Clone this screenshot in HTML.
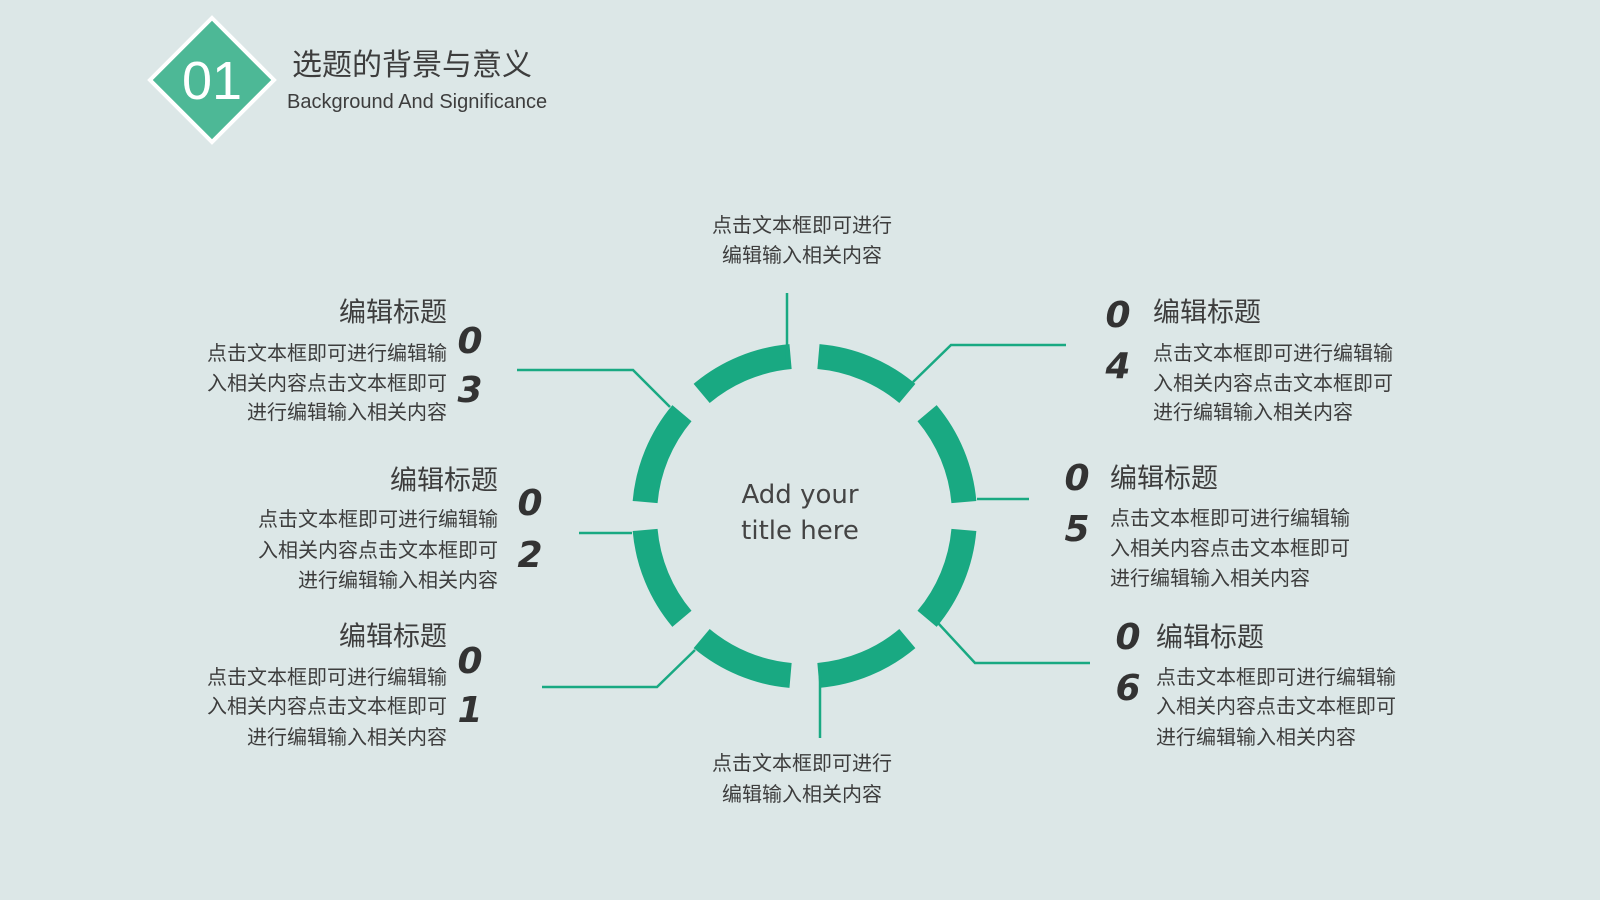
<!DOCTYPE html>
<html><head><meta charset="utf-8"><style>
body{margin:0;width:1600px;height:900px;background:#dce7e7;position:relative;overflow:hidden;font-family:"Liberation Sans","Noto Sans CJK SC",sans-serif;color:#3d3d3d}
.t{position:absolute;white-space:nowrap;line-height:1}
.h{font-size:27px}
.b{font-size:20px}
.r{transform:translate(-100%,-50%);text-align:right}
.l{transform:translate(0,-50%)}
.c{transform:translate(-50%,-50%);text-align:center}
.d{position:absolute;font-family:"DejaVu Sans",sans-serif;font-style:italic;font-weight:bold;font-size:36px;color:#333;transform:translate(-50%,-50%);line-height:1}
</style></head><body>
<svg width="1600" height="900" style="position:absolute;left:0;top:0">
<polygon points="212,18 274,80 212,142 150,80" fill="#4db896" stroke="#fff" stroke-width="4"/>
<g fill="none" stroke="#19a982" stroke-width="25" id="ring"></g>
<g fill="none" stroke="#19a982" stroke-width="2.5">
<polyline points="787,293 787,368"/>
<polyline points="1066,345 951,345 913,382"/>
<polyline points="977,499 1029,499"/>
<polyline points="938,623 975,663 1090,663"/>
<polyline points="820,677 820,738"/>
<polyline points="542,687 657,687 695,650"/>
<polyline points="579,533 632,533"/>
<polyline points="517,370 633,370 670,407"/>
</g>
</svg>
<script>
var g=document.getElementById('ring'),cx=804.5,cy=516,r=160,s='';
for(var k=0;k<8;k++){var a0=(45*k+5)*Math.PI/180,a1=(45*k+40)*Math.PI/180;
s+='<path d="M'+(cx+r*Math.cos(a0))+','+(cy+r*Math.sin(a0))+' A'+r+','+r+' 0 0 1 '+(cx+r*Math.cos(a1))+','+(cy+r*Math.sin(a1))+'"/>';}
g.innerHTML=s;
</script>
<div class="t c" style="left:212px;top:81px;font-size:54px;color:#fff">01</div>
<div class="t l" style="left:292px;top:66px;font-size:30px">选题的背景与意义</div>
<div class="t l" style="left:287px;top:102px;font-size:20px">Background And Significance</div>

<div class="t c" style="left:800px;top:495px;font-size:26px;font-family:'DejaVu Sans',sans-serif;color:#444">Add your</div>
<div class="t c" style="left:800px;top:531px;font-size:26px;font-family:'DejaVu Sans',sans-serif;color:#444">title here</div>

<div class="t c b" style="left:802px;top:226px">点击文本框即可进行</div>
<div class="t c b" style="left:802px;top:256px">编辑输入相关内容</div>
<div class="t c b" style="left:802px;top:764px">点击文本框即可进行</div>
<div class="t c b" style="left:802px;top:795px">编辑输入相关内容</div>

<div class="t r h" style="left:447px;top:313px">编辑标题</div>
<div class="t r b" style="left:447px;top:354px">点击文本框即可进行编辑输</div>
<div class="t r b" style="left:447px;top:384px">入相关内容点击文本框即可</div>
<div class="t r b" style="left:447px;top:413px">进行编辑输入相关内容</div>
<div class="d" style="left:470px;top:342px">0</div><div class="d" style="left:470px;top:391px">3</div>

<div class="t r h" style="left:498px;top:481px">编辑标题</div>
<div class="t r b" style="left:498px;top:520px">点击文本框即可进行编辑输</div>
<div class="t r b" style="left:498px;top:551px">入相关内容点击文本框即可</div>
<div class="t r b" style="left:498px;top:581px">进行编辑输入相关内容</div>
<div class="d" style="left:530px;top:504px">0</div><div class="d" style="left:530px;top:556px">2</div>

<div class="t r h" style="left:447px;top:637px">编辑标题</div>
<div class="t r b" style="left:447px;top:678px">点击文本框即可进行编辑输</div>
<div class="t r b" style="left:447px;top:707px">入相关内容点击文本框即可</div>
<div class="t r b" style="left:447px;top:738px">进行编辑输入相关内容</div>
<div class="d" style="left:470px;top:662px">0</div><div class="d" style="left:470px;top:711px">1</div>

<div class="t l h" style="left:1153px;top:313px">编辑标题</div>
<div class="t l b" style="left:1153px;top:354px">点击文本框即可进行编辑输</div>
<div class="t l b" style="left:1153px;top:384px">入相关内容点击文本框即可</div>
<div class="t l b" style="left:1153px;top:413px">进行编辑输入相关内容</div>
<div class="d" style="left:1118px;top:316px">0</div><div class="d" style="left:1118px;top:367px">4</div>

<div class="t l h" style="left:1110px;top:479px">编辑标题</div>
<div class="t l b" style="left:1110px;top:519px">点击文本框即可进行编辑输</div>
<div class="t l b" style="left:1110px;top:549px">入相关内容点击文本框即可</div>
<div class="t l b" style="left:1110px;top:579px">进行编辑输入相关内容</div>
<div class="d" style="left:1077px;top:479px">0</div><div class="d" style="left:1077px;top:530px">5</div>

<div class="t l h" style="left:1156px;top:638px">编辑标题</div>
<div class="t l b" style="left:1156px;top:678px">点击文本框即可进行编辑输</div>
<div class="t l b" style="left:1156px;top:707px">入相关内容点击文本框即可</div>
<div class="t l b" style="left:1156px;top:738px">进行编辑输入相关内容</div>
<div class="d" style="left:1128px;top:638px">0</div><div class="d" style="left:1128px;top:689px">6</div>
</body></html>
